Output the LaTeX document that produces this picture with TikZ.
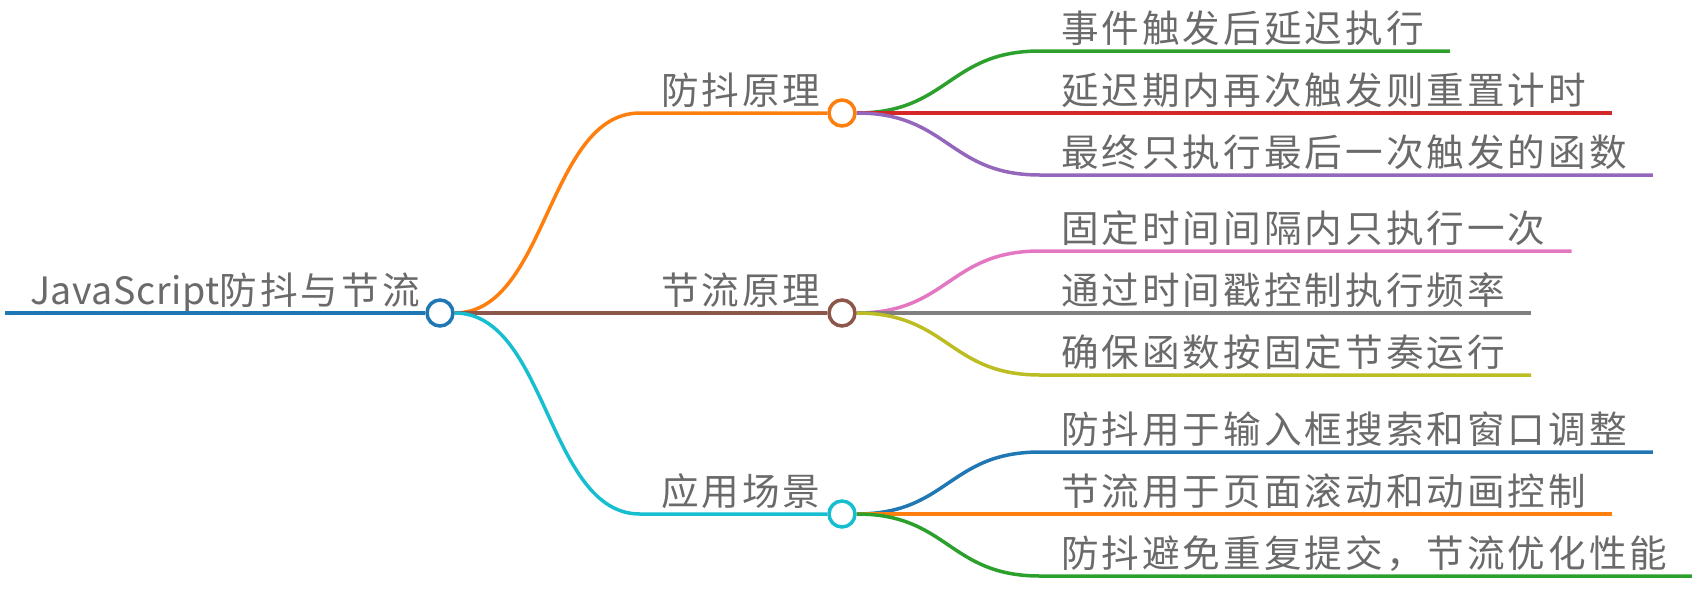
\documentclass[tikz,border=0pt]{standalone}
\usepackage{fontspec}
\usetikzlibrary{calc}
\setmainfont{Noto Sans CJK SC}[LetterSpace=8]
\newfontfamily\latinfont{Noto Sans CJK SC}[LetterSpace=1.5]
\definecolor{cblue}{HTML}{1F77B4}
\definecolor{corange}{HTML}{FF7F0E}
\definecolor{cgreen}{HTML}{2CA02C}
\definecolor{cred}{HTML}{D62728}
\definecolor{cpurple}{HTML}{9467BD}
\definecolor{cbrown}{HTML}{8C564B}
\definecolor{cpink}{HTML}{E377C2}
\definecolor{cgray}{HTML}{7F7F7F}
\definecolor{colive}{HTML}{BCBD22}
\definecolor{ccyan}{HTML}{17BECF}
\definecolor{textgray}{HTML}{6A6A6A}
\begin{document}
\begin{tikzpicture}[x=1pt,y=-1pt,
  txt/.style={anchor=base west, inner sep=0pt, text=textgray, font=\fontsize{37.6}{44}\selectfont},
  dotshape/.style={circle, line width=3.5pt, minimum size=26pt, inner sep=0pt},
  dot/.style={dotshape, draw, fill=white},
  lnk/.style={line width=3.5pt}]
\useasboundingbox (0,0) rectangle (1692,590);
% root
\coordinate (s0) at (5,313);
\node[txt] (root) at (30,304) {{\latinfont JavaScript}防抖与节流};
\node[dotshape] (c0) at (440,313) {};
% level 1
\foreach \nn/\yy/\lab in {c1/113/防抖原理, c2/313/节流原理, c3/514/应用场景}{
  \coordinate (\nn-s) at (640,\yy);
  \node[txt] (\nn-t) at (661,\yy-9) {\lab};
  \node[dotshape] (\nn) at (842,\yy) {};
}
\draw[lnk,cblue] (s0) -- (c0.west);
\foreach \nn/\clr in {c1/corange, c2/cbrown, c3/ccyan}{
  \draw[lnk,\clr] let \p1=(c0.east), \p2=(\nn-s) in
    (\p1) .. controls ({(\x1+\x2)/2},\y1) and ({(\x1+\x2)/2},\y2) .. (\p2) -- (\nn.west);
}
% leaves
\foreach \pa/\yy/\clr/\lab/\nn in {
  c1/51/cgreen/事件触发后延迟执行/l1,
  c1/113/cred/延迟期内再次触发则重置计时/l2,
  c1/175/cpurple/最终只执行最后一次触发的函数/l3,
  c2/251/cpink/固定时间间隔内只执行一次/l4,
  c2/313/cgray/通过时间戳控制执行频率/l5,
  c2/375/colive/确保函数按固定节奏运行/l6,
  c3/452/cblue/防抖用于输入框搜索和窗口调整/l7,
  c3/514/corange/节流用于页面滚动和动画控制/l8,
  c3/576/cgreen/防抖避免重复提交，节流优化性能/l9}{
  \node[txt] (\nn) at (1061,\yy-9) {\lab};
  \coordinate (\nn-s) at (1040,\yy);
  \coordinate (\nn-e) at (\nn.east |- \nn-s);
  \draw[lnk,\clr] let \p1=(\pa.east), \p2=(\nn-s) in
    (\p1) .. controls ({(\x1+\x2)/2},\y1) and ({(\x1+\x2)/2},\y2) .. (\p2) -- ([xshift=26pt]\nn-e);
}
% circles on top
\foreach \nn/\clr in {c0/cblue, c1/corange, c2/cbrown, c3/ccyan}{
  \node[dot, draw=\clr] at (\nn) {};
}
\end{tikzpicture}
\end{document}
